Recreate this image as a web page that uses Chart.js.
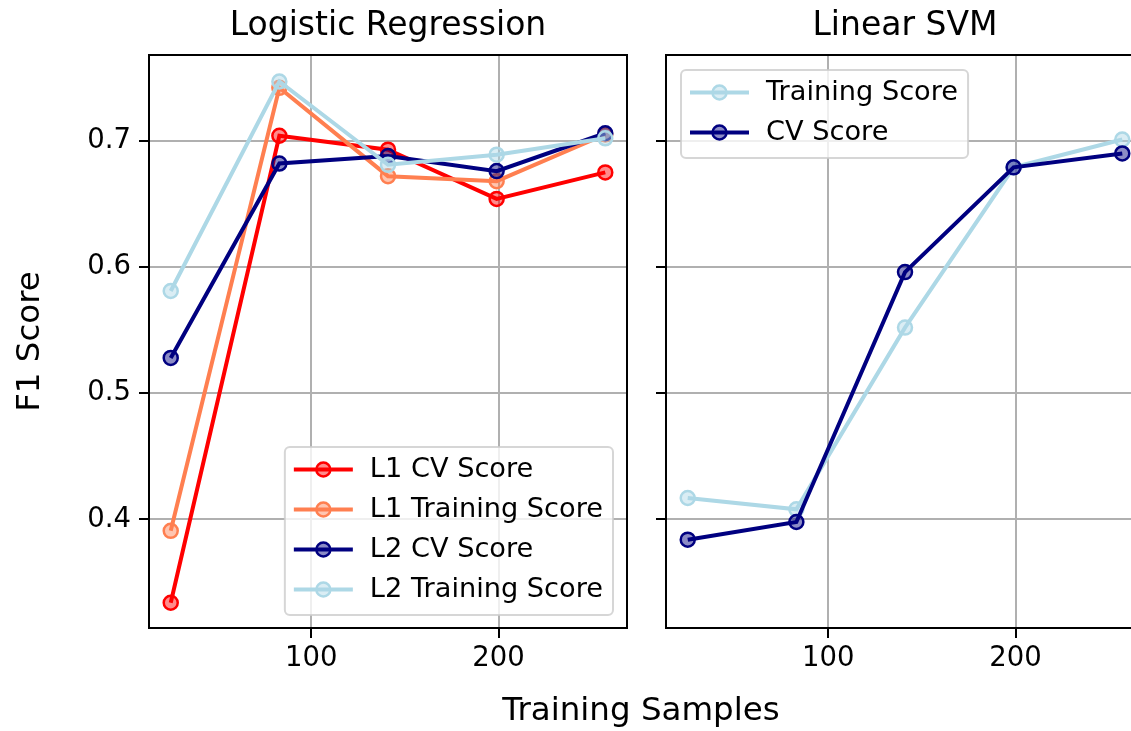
<!DOCTYPE html>
<html>
<head>
<meta charset="utf-8">
<script src="https://cdn.jsdelivr.net/npm/chart.js@4.4.1/dist/chart.umd.min.js"></script>
<style>
  html, body { margin: 0; padding: 0; background: #fff; overflow: hidden; }
  #wrap { position: relative; width: 1131px; height: 731px; overflow: hidden; }
  canvas { position: absolute; top: 0; }
  #lrChart { left: 0; }
  #svmChart { left: 650px; }
  #xTitle {
    position: absolute; left: 441px; width: 400px; top: 693px;
    text-align: center; font: 32.5px "DejaVu Sans"; line-height: 32.5px; color: #000;
  }
</style>
</head>
<body>
<div id="wrap">
  <canvas id="lrChart" width="650" height="731"></canvas>
  <canvas id="svmChart" width="520" height="731"></canvas>
  <div id="xTitle">Training Samples</div>
</div>
<script>
// training set sizes (x)
const trainSizes = [25, 83, 141, 199, 257];

// Logistic Regression
const l1CvScore = [0.334, 0.704, 0.693, 0.654, 0.675];
const l1TrainScore = [0.391, 0.742, 0.672, 0.668, 0.705];
const l2CvScore = [0.528, 0.682, 0.688, 0.676, 0.706];
const l2TrainScore = [0.581, 0.747, 0.681, 0.689, 0.702];

// Linear SVM
const svmTrainScore = [0.417, 0.408, 0.552, 0.679, 0.701];
const svmCvScore = [0.384, 0.398, 0.596, 0.679, 0.690];

const xTicks = [100, 200];
const yTicks = [0.4, 0.5, 0.6, 0.7];
const xMin = 13.4, xMax = 268.6;
const yMin = 0.314, yMax = 0.768;

Chart.defaults.font.family = '"DejaVu Sans"';
Chart.defaults.color = "#000";

function points(values) {
  return trainSizes.map((x, i) => ({ x: x, y: values[i] }));
}

function series(label, values, color, fill, order) {
  return {
    label: label,
    data: points(values),
    borderColor: color,
    backgroundColor: color,
    pointBackgroundColor: fill,
    pointBorderColor: color,
    borderWidth: 4,
    pointRadius: 7,
    pointBorderWidth: 2.5,
    tension: 0,
    order: order, // lower order is drawn on top
  };
}

// black box round the plot area, like matplotlib spines
const framePlugin = {
  id: "frame",
  afterDatasetsDraw(chart) {
    const { ctx, chartArea: a } = chart;
    ctx.save();
    ctx.strokeStyle = "#000";
    ctx.lineWidth = 2;
    ctx.strokeRect(a.left, a.top, a.width, a.height);
    ctx.restore();
  },
};

// legend drawn inside the plot area
const boxLegendPlugin = {
  id: "boxLegend",
  afterDraw(chart, args, opts) {
    const { ctx, chartArea: a } = chart;
    const items = chart.data.datasets;
    ctx.save();
    ctx.font = '27.2px "DejaVu Sans"';
    const textW = Math.max(...items.map((d) => ctx.measureText(d.label).width));
    const w = 85 + textW + 10;
    const h = 22 + (items.length - 1) * 40 + 26;
    const x = opts.corner === "lowerRight" ? a.right - 14 - w : a.left + 15;
    const y = opts.corner === "lowerRight" ? a.bottom - 13 - h : a.top + 15;
    ctx.fillStyle = "rgba(255,255,255,0.8)";
    ctx.strokeStyle = "rgba(204,204,204,0.8)";
    ctx.lineWidth = 2;
    ctx.beginPath();
    ctx.roundRect(x, y, w, h, 5);
    ctx.fill();
    ctx.stroke();
    items.forEach((d, i) => {
      const cy = y + 22.5 + i * 40;
      ctx.strokeStyle = d.borderColor;
      ctx.lineWidth = 4;
      ctx.beginPath();
      ctx.moveTo(x + 9, cy);
      ctx.lineTo(x + 68, cy);
      ctx.stroke();
      ctx.beginPath();
      ctx.arc(x + 38.5, cy, 7, 0, Math.PI * 2);
      ctx.fillStyle = d.pointBackgroundColor;
      ctx.fill();
      ctx.lineWidth = 2.5;
      ctx.stroke();
      ctx.fillStyle = "#000";
      ctx.textBaseline = "middle";
      ctx.textAlign = "left";
      ctx.fillText(d.label, x + 85, cy);
    });
    ctx.restore();
  },
};

function makeOptions(title, showYLabels, yAxisWidth, rightPad, legendCorner) {
  return {
    responsive: false,
    animation: false,
    devicePixelRatio: 1,
    layout: { padding: { left: 0, right: rightPad, top: 0, bottom: 0 } },
    plugins: {
      legend: { display: false },
      tooltip: { enabled: false },
      title: {
        display: true,
        text: title,
        fullSize: false,
        color: "#000",
        font: { size: 33, weight: "normal" },
        padding: { top: 7.1, bottom: 8.3 },
      },
      boxLegend: { corner: legendCorner },
    },
    scales: {
      x: {
        type: "linear",
        min: xMin,
        max: xMax,
        afterBuildTicks: (s) => { s.ticks = xTicks.map((v) => ({ value: v })); },
        afterFit: (s) => { s.height = 103; },
        ticks: { font: { size: 27.5 }, color: "#000", padding: 4.5, maxRotation: 0, callback: (v) => String(v) },
        grid: { color: "#b0b0b0", lineWidth: 2, tickLength: 10, tickColor: "#000", tickWidth: 2 },
        border: { color: "#000", width: 2 },
      },
      y: {
        min: yMin,
        max: yMax,
        afterBuildTicks: (s) => { s.ticks = yTicks.map((v) => ({ value: v })); },
        afterFit: (s) => { s.width = yAxisWidth; },
        ticks: { display: showYLabels, font: { size: 27.5 }, color: "#000", padding: 8, callback: (v) => v.toFixed(1) },
        grid: { color: "#b0b0b0", lineWidth: 2, tickLength: 10, tickColor: "#000", tickWidth: 2 },
        border: { color: "#000", width: 2 },
        title: {
          display: showYLabels,
          text: "F1 Score",
          color: "#000",
          font: { size: 32.5 },
          padding: { top: 11.2, bottom: 0 },
        },
      },
    },
  };
}

var lrChartConfig = {
  type: "line",
  data: {
    datasets: [
      series("L1 CV Score", l1CvScore, "#ff0000", "rgba(255,0,0,0.45)", 4),
      series("L1 Training Score", l1TrainScore, "#ff7f50", "rgba(255,127,80,0.45)", 3),
      series("L2 CV Score", l2CvScore, "#000080", "rgba(0,0,128,0.45)", 2),
      series("L2 Training Score", l2TrainScore, "#add8e6", "rgba(173,216,230,0.45)", 1),
    ],
  },
  options: makeOptions("Logistic Regression", true, 149, 23, "lowerRight"),
  plugins: [framePlugin, boxLegendPlugin],
};

var svmChartConfig = {
  type: "line",
  data: {
    datasets: [
      series("Training Score", svmTrainScore, "#add8e6", "rgba(173,216,230,0.45)", 2),
      series("CV Score", svmCvScore, "#000080", "rgba(0,0,128,0.45)", 1),
    ],
  },
  options: makeOptions("Linear SVM", false, 16, 26, "upperLeft"),
  plugins: [framePlugin, boxLegendPlugin],
};

new Chart(document.getElementById("lrChart"), lrChartConfig);
new Chart(document.getElementById("svmChart"), svmChartConfig);
</script>
</body>
</html>
